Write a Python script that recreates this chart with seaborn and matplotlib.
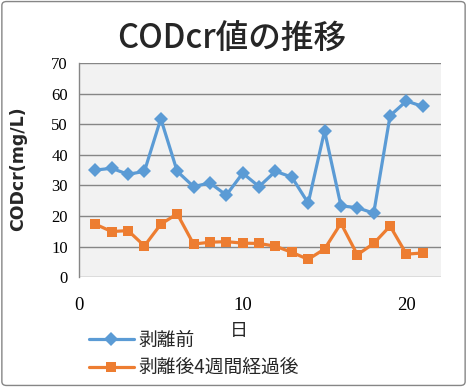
import matplotlib
matplotlib.use("Agg")
import matplotlib.pyplot as plt
import seaborn as sns
import pandas as pd
from matplotlib.patches import FancyBboxPatch

days = list(range(1, 22))
before = [35, 35.6, 33.6, 34.6, 51.8, 34.6, 29.6, 30.8, 26.8, 34.0, 29.6,
          34.6, 32.7, 24.2, 47.8, 23.3, 22.7, 20.9, 52.8, 57.6, 55.8]
after = [17.3, 14.9, 15.2, 10.2, 17.3, 20.7, 10.8, 11.4, 11.6, 11.1, 11.0,
         10.1, 8.1, 5.8, 9.2, 17.6, 7.3, 11.0, 16.7, 7.5, 7.9]
series_names = ["剥離前", "剥離後4週間経過後"]
xticks = [0, 10, 20]
yticks = [0, 10, 20, 30, 40, 50, 60, 70]
title = "CODcr値の推移"
ylabel = "CODcr(mg/L)"
xlabel = "日"

df = pd.concat([
    pd.DataFrame({"day": days, "val": before, "series": series_names[0]}),
    pd.DataFrame({"day": days, "val": after, "series": series_names[1]}),
])

sns.set_theme(style="white")
plt.rcParams["font.family"] = ["Noto Sans CJK JP", "DejaVu Sans"]

fig = plt.figure(figsize=(4.67, 3.87), dpi=100)
ax = fig.add_axes([0.169, 0.284, 0.775, 0.553])
ax.set_facecolor("#f2f2f2")

palette = {series_names[0]: "#5B9BD5", series_names[1]: "#ED7D31"}
markers = {series_names[0]: "D", series_names[1]: "s"}
sns.lineplot(data=df, x="day", y="val", hue="series", style="series",
             palette=palette, markers=markers, dashes=False, ax=ax,
             linewidth=2.3, markersize=7, markeredgewidth=0)

ax.set_xlim(0, 22.1)
ax.set_ylim(0, 70)
ax.set_xticks(xticks, labels=[str(v) for v in xticks],
              fontfamily="Liberation Serif", fontsize=13.5, color="black")
ax.set_yticks(yticks, labels=[str(v) for v in yticks],
              fontfamily="Liberation Serif", fontsize=12, color="black")
ax.yaxis.grid(True, color="#868686", linewidth=1.0)
ax.set_axisbelow(True)
for s in ["top", "right", "bottom"]:
    ax.spines[s].set_visible(False)
ax.spines["left"].set_color("#868686")
ax.spines["left"].set_linewidth(1.0)
ax.tick_params(axis="both", length=0)
ax.tick_params(axis="x", pad=14)
ax.tick_params(axis="y", pad=8)

ax.set_xlabel("")
ax.set_ylabel("")
fig.text(0.512, 0.285 - 0.14, xlabel, ha="center", va="center", fontsize=13)
fig.text(0.038, 0.565, ylabel, rotation=90, ha="center", va="center",
         fontsize=12.5, fontweight="bold", family=["DejaVu Sans"])
fig.text(0.497, 0.902, title, ha="center", va="center", fontsize=23.5,
         fontweight="medium")

ax.legend_.remove()
h, l = ax.get_legend_handles_labels()
leg = fig.legend(h, l, loc="upper left", bbox_to_anchor=(0.19, 0.148),
                 frameon=False, fontsize=13.5, handlelength=2.4,
                 handletextpad=0.25, labelspacing=0.35, borderaxespad=0,
                 borderpad=0)

fig.patches.append(FancyBboxPatch((0.004, 0.004), 0.992, 0.992,
                                  boxstyle="round,pad=0,rounding_size=0.01",
                                  transform=fig.transFigure, fill=False,
                                  edgecolor="#868686", linewidth=1.0))

fig.savefig("out.png", dpi=100)
